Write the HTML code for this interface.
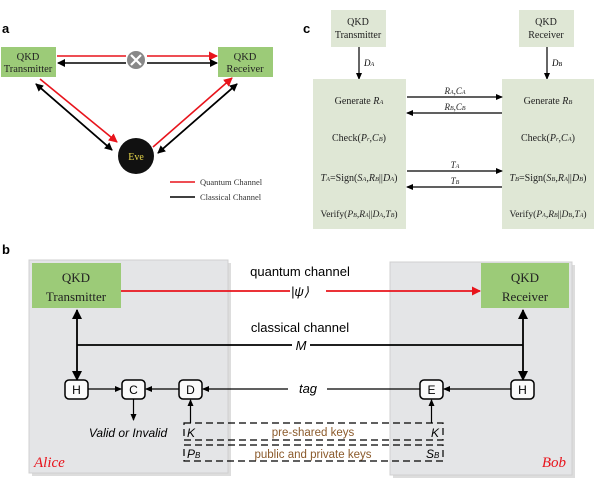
<!DOCTYPE html>
<html><head><meta charset="utf-8"><style>
html,body{margin:0;padding:0;background:#fff}
svg{display:block}
.s{font-family:"Liberation Serif",serif}
.a{font-family:"Liberation Sans",sans-serif}
</style></head><body>
<svg width="600" height="487" viewBox="0 0 600 487" xmlns="http://www.w3.org/2000/svg">
<defs>
<marker id="ab" markerWidth="8" markerHeight="8" refX="7" refY="4" orient="auto" markerUnits="userSpaceOnUse"><path d="M0,0 L8,4 L0,8 z" fill="#000"/></marker>
<marker id="ar" markerWidth="9" markerHeight="9" refX="8" refY="4.5" orient="auto" markerUnits="userSpaceOnUse"><path d="M0,0 L9,4.5 L0,9 z" fill="#e8141c"/></marker>
<marker id="as" markerWidth="7" markerHeight="6" refX="6" refY="3" orient="auto" markerUnits="userSpaceOnUse"><path d="M0,0 L7,3 L0,6 z" fill="#000"/></marker>
<marker id="abig" markerWidth="10" markerHeight="10" refX="9" refY="5" orient="auto" markerUnits="userSpaceOnUse"><path d="M0,0 L10,5 L0,10 z" fill="#000"/></marker>
</defs>
<!-- panel a -->
<text x="2" y="33" class="a" font-size="13" font-weight="bold">a</text>
<rect x="1" y="47" width="55" height="30" fill="#9ccb78"/>
<text x="28" y="60" class="s" font-size="10.5" text-anchor="middle" fill="#222">QKD</text>
<text x="28" y="72" class="s" font-size="10.5" text-anchor="middle" fill="#222">Transmitter</text>
<rect x="218" y="47" width="55" height="30" fill="#9ccb78"/>
<text x="245" y="60" class="s" font-size="10.5" text-anchor="middle" fill="#222">QKD</text>
<text x="245" y="72" class="s" font-size="10.5" text-anchor="middle" fill="#222">Receiver</text>
<line x1="57" y1="56" x2="126" y2="56" stroke="#e8141c" stroke-width="1.6"/>
<line x1="147" y1="56" x2="217" y2="56" stroke="#e8141c" stroke-width="1.6" marker-end="url(#ar)"/>
<line x1="126" y1="63" x2="58" y2="63" stroke="#000" stroke-width="1.6" marker-end="url(#ab)"/>
<line x1="147" y1="63" x2="217" y2="63" stroke="#000" stroke-width="1.6" marker-end="url(#ab)"/>
<circle cx="136" cy="60" r="9" fill="#888"/>
<path d="M131,55 L141,65 M141,55 L131,65" stroke="#fff" stroke-width="2.2"/>
<line x1="40" y1="79" x2="117" y2="142" stroke="#e8141c" stroke-width="1.6" marker-end="url(#ar)"/>
<line x1="112" y1="150" x2="36" y2="84" stroke="#000" stroke-width="1.6" marker-end="url(#ab)"/>
<line x1="36" y1="84" x2="112" y2="150" stroke="#000" stroke-width="1.6" marker-end="url(#ab)"/>
<line x1="153" y1="147" x2="232" y2="78" stroke="#e8141c" stroke-width="1.6" marker-end="url(#ar)"/>
<line x1="158" y1="153" x2="237" y2="84" stroke="#000" stroke-width="1.6" marker-end="url(#ab)"/>
<line x1="237" y1="84" x2="158" y2="153" stroke="#000" stroke-width="1.6" marker-end="url(#ab)"/>
<circle cx="136" cy="156" r="18" fill="#111"/>
<text x="136" y="160" class="s" font-size="10" text-anchor="middle" fill="#e8d84a">Eve</text>
<line x1="170" y1="182" x2="195" y2="182" stroke="#e8141c" stroke-width="1.5"/>
<text x="200" y="185" class="s" font-size="8.5" fill="#333">Quantum Channel</text>
<line x1="170" y1="197" x2="195" y2="197" stroke="#000" stroke-width="1.5"/>
<text x="200" y="200" class="s" font-size="8.5" fill="#333">Classical Channel</text>
<!-- panel c -->
<text x="303" y="33" class="a" font-size="13" font-weight="bold">c</text>
<rect x="331" y="10" width="55" height="37" fill="#dfe7d5"/>
<text x="358" y="25" class="s" font-size="10" text-anchor="middle" fill="#222">QKD</text>
<text x="358" y="38" class="s" font-size="10" text-anchor="middle" fill="#222">Transmitter</text>
<rect x="519" y="10" width="55" height="37" fill="#dfe7d5"/>
<text x="546" y="25" class="s" font-size="10" text-anchor="middle" fill="#222">QKD</text>
<text x="546" y="38" class="s" font-size="10" text-anchor="middle" fill="#222">Receiver</text>
<line x1="359" y1="47" x2="359" y2="79" stroke="#000" stroke-width="1.2" marker-end="url(#as)"/>
<line x1="547" y1="47" x2="547" y2="79" stroke="#000" stroke-width="1.2" marker-end="url(#as)"/>
<text x="364" y="66" class="s" font-size="9" font-style="italic">D<tspan font-size="6">A</tspan></text>
<text x="552" y="66" class="s" font-size="9" font-style="italic">D<tspan font-size="6">B</tspan></text>
<rect x="313" y="79" width="93" height="150" fill="#dfe7d5"/>
<rect x="502" y="79" width="92" height="150" fill="#dfe7d5"/>
<g class="s" font-size="10" fill="#222" text-anchor="middle">
<text x="359" y="104">Generate <tspan font-style="italic">R<tspan font-size="6.5">A</tspan></tspan></text>
<text x="359" y="141">Check(<tspan font-style="italic">P<tspan font-size="6.5">r</tspan>,C<tspan font-size="6.5">B</tspan></tspan>)</text>
<text x="359" y="181"><tspan font-style="italic">T<tspan font-size="6.5">A</tspan></tspan>=Sign(<tspan font-style="italic">S<tspan font-size="6.5">A</tspan>,R<tspan font-size="6.5">B</tspan></tspan>||<tspan font-style="italic">D<tspan font-size="6.5">A</tspan></tspan>)</text>
<text x="359" y="217" font-size="9.5">Verify(<tspan font-style="italic">P<tspan font-size="6">B</tspan>,R<tspan font-size="6">A</tspan></tspan>||<tspan font-style="italic">D<tspan font-size="6">A</tspan>,T<tspan font-size="6">B</tspan></tspan>)</text>
<text x="548" y="104">Generate <tspan font-style="italic">R<tspan font-size="6.5">B</tspan></tspan></text>
<text x="548" y="141">Check(<tspan font-style="italic">P<tspan font-size="6.5">r</tspan>,C<tspan font-size="6.5">A</tspan></tspan>)</text>
<text x="548" y="181"><tspan font-style="italic">T<tspan font-size="6.5">B</tspan></tspan>=Sign(<tspan font-style="italic">S<tspan font-size="6.5">B</tspan>,R<tspan font-size="6.5">A</tspan></tspan>||<tspan font-style="italic">D<tspan font-size="6.5">B</tspan></tspan>)</text>
<text x="548" y="217" font-size="9.5">Verify(<tspan font-style="italic">P<tspan font-size="6">A</tspan>,R<tspan font-size="6">B</tspan></tspan>||<tspan font-style="italic">D<tspan font-size="6">B</tspan>,T<tspan font-size="6">A</tspan></tspan>)</text>
<g font-style="italic" font-size="9">
<text x="455" y="94">R<tspan font-size="6">A</tspan>,C<tspan font-size="6">A</tspan></text>
<text x="455" y="110">R<tspan font-size="6">B</tspan>,C<tspan font-size="6">B</tspan></text>
<text x="455" y="168">T<tspan font-size="6">A</tspan></text>
<text x="455" y="184">T<tspan font-size="6">B</tspan></text>
</g></g>
<line x1="407" y1="97" x2="502" y2="97" stroke="#000" stroke-width="1.2" marker-end="url(#as)"/>
<line x1="502" y1="113" x2="407" y2="113" stroke="#000" stroke-width="1.2" marker-end="url(#as)"/>
<line x1="407" y1="171" x2="502" y2="171" stroke="#000" stroke-width="1.2" marker-end="url(#as)"/>
<line x1="502" y1="187" x2="407" y2="187" stroke="#000" stroke-width="1.2" marker-end="url(#as)"/>
<!-- panel b -->
<text x="2" y="254" class="a" font-size="13" font-weight="bold">b</text>
<rect x="32" y="263" width="199" height="213" fill="#bbb" opacity="0.5"/>
<rect x="29" y="260" width="199" height="213" fill="#e4e5e7" stroke="#d0d0d0"/>
<rect x="393" y="265" width="182" height="213" fill="#bbb" opacity="0.5"/>
<rect x="390" y="262" width="182" height="213" fill="#e4e5e7" stroke="#d0d0d0"/>
<rect x="32" y="263" width="89" height="45" fill="#9ccb78"/>
<text x="76" y="282" class="s" font-size="13" text-anchor="middle" fill="#222">QKD</text>
<text x="76" y="301" class="s" font-size="13" text-anchor="middle" fill="#222">Transmitter</text>
<rect x="481" y="263" width="88" height="45" fill="#9ccb78"/>
<text x="525" y="282" class="s" font-size="13" text-anchor="middle" fill="#222">QKD</text>
<text x="525" y="301" class="s" font-size="13" text-anchor="middle" fill="#222">Receiver</text>
<line x1="121" y1="291" x2="290" y2="291" stroke="#e8141c" stroke-width="1.8"/>
<line x1="326" y1="291" x2="480" y2="291" stroke="#e8141c" stroke-width="1.8" marker-end="url(#ar)"/>
<text x="300" y="276" class="a" font-size="13" text-anchor="middle">quantum channel</text>
<text x="300" y="296" class="a" font-size="13" text-anchor="middle" font-style="italic">|ψ⟩</text>
<text x="300" y="332" class="a" font-size="13" text-anchor="middle">classical channel</text>
<line x1="77" y1="345" x2="292" y2="345" stroke="#000" stroke-width="1.8"/>
<line x1="310" y1="345" x2="523" y2="345" stroke="#000" stroke-width="1.8"/>
<text x="301" y="350" class="a" font-size="13" text-anchor="middle" font-style="italic">M</text>
<line x1="77" y1="345" x2="77" y2="310" stroke="#000" stroke-width="1.8" marker-end="url(#abig)"/>
<line x1="77" y1="345" x2="77" y2="380" stroke="#000" stroke-width="1.8" marker-end="url(#abig)"/>
<line x1="523" y1="345" x2="523" y2="310" stroke="#000" stroke-width="1.8" marker-end="url(#abig)"/>
<line x1="523" y1="345" x2="523" y2="380" stroke="#000" stroke-width="1.8" marker-end="url(#abig)"/>
<g stroke="#000" stroke-width="1.5" fill="#fafafa">
<rect x="65" y="380" width="23" height="19" rx="4"/>
<rect x="122" y="380" width="23" height="19" rx="4"/>
<rect x="179" y="380" width="23" height="19" rx="4"/>
<rect x="420" y="380" width="23" height="19" rx="4"/>
<rect x="511" y="380" width="23" height="19" rx="4"/>
</g>
<g class="a" font-size="12" text-anchor="middle">
<text x="76.5" y="394">H</text><text x="133.5" y="394">C</text><text x="190.5" y="394">D</text>
<text x="431.5" y="394">E</text><text x="522.5" y="394">H</text>
</g>
<g stroke="#000" stroke-width="1.2">
<line x1="88" y1="389" x2="121" y2="389" marker-end="url(#as)"/>
<line x1="179" y1="389" x2="146" y2="389" marker-end="url(#as)"/>
<line x1="288" y1="389" x2="203" y2="389" marker-end="url(#as)"/>
<line x1="327" y1="389" x2="420" y2="389"/>
<line x1="511" y1="389" x2="444" y2="389" marker-end="url(#as)"/>
<line x1="133.5" y1="399" x2="133.5" y2="420" marker-end="url(#as)"/>
<line x1="190.5" y1="423" x2="190.5" y2="400" marker-end="url(#as)"/>
<line x1="431.5" y1="423" x2="431.5" y2="400" marker-end="url(#as)"/>
</g>
<text x="308" y="393" class="a" font-size="13" text-anchor="middle" font-style="italic">tag</text>
<text x="128" y="437" class="a" font-size="12" text-anchor="middle" font-style="italic">Valid or Invalid</text>
<g fill="none" stroke="#000" stroke-width="1.2" stroke-dasharray="7,4">
<rect x="184" y="423" width="259" height="17"/>
<rect x="184" y="445" width="259" height="16"/>
</g>
<text x="187" y="437" class="a" font-size="12" font-style="italic">K</text>
<text x="431" y="437" class="a" font-size="12" font-style="italic">K</text>
<text x="187" y="458" class="a" font-size="12" font-style="italic">P<tspan font-size="8">B</tspan></text>
<text x="426" y="458" class="a" font-size="12" font-style="italic">S<tspan font-size="8">B</tspan></text>
<text x="313" y="436" class="a" font-size="11.5" text-anchor="middle" fill="#8b5a2b">pre-shared keys</text>
<text x="313" y="458" class="a" font-size="11.5" text-anchor="middle" fill="#8b5a2b">public and private keys</text>
<text x="34" y="467" class="s" font-size="15" font-style="italic" fill="#e8141c">Alice</text>
<text x="566" y="467" class="s" font-size="15" font-style="italic" fill="#e8141c" text-anchor="end">Bob</text>
</svg>
</body></html>
